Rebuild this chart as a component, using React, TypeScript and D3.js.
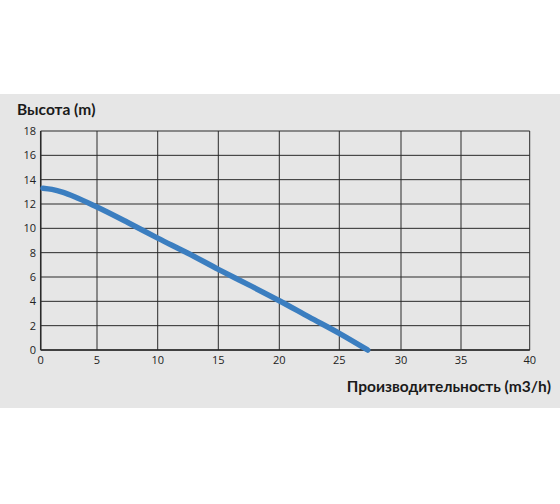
import React from "react";
import * as d3 from "d3";

const flowValues = [0.2, 1, 2, 3, 5, 7.5, 10, 12.5, 15, 17.5, 20, 22.5, 25, 27.3];
const headValues = [13.3, 13.2, 12.95, 12.6, 11.75, 10.5, 9.2, 7.95, 6.63, 5.35, 4.05, 2.7, 1.37, 0];
const xTicks = [0, 5, 10, 15, 20, 25, 30, 35, 40];
const yTicks = [0, 2, 4, 6, 8, 10, 12, 14, 16, 18];
const yTitle = "Высота (m)";
const xTitle = "Производительность (m3/h)";

export default function App() {
  const W = 560, H = 504;
  // the printed grid is slightly uneven: first and last cells differ in width
  const x = d3
    .scaleLinear()
    .domain(xTicks)
    .range([40.7, 97, 157.7, 218.3, 279.3, 339.3, 401, 461, 529.7]);
  const y = d3.scaleLinear().domain([0, 18]).range([350, 131]);
  const pts = flowValues.map((f, i) => [f, headValues[i]] as [number, number]);
  const line = d3
    .line<[number, number]>()
    .x((d) => x(d[0]))
    .y((d) => y(d[1]))
    .curve(d3.curveMonotoneX);
  const font = "'Open Sans', sans-serif";
  const titleFont = "Lato, 'Open Sans', sans-serif";
  const gridColor = "#2a2a2a";
  return (
    <svg
      width={W}
      height={H}
      style={{ position: "absolute", left: 0, top: 0, background: "#fff" }}
    >
      <rect x={0} y={94} width={W} height={314} fill="#e6e6e6" />
      {yTicks.map((t) => (
        <line key={"gy" + t} x1={x(0)} x2={x(40)} y1={y(t)} y2={y(t)} stroke={gridColor} strokeWidth={1} />
      ))}
      {xTicks.map((t) => (
        <line key={"gx" + t} x1={x(t)} x2={x(t)} y1={y(0)} y2={y(18)} stroke={gridColor} strokeWidth={1} />
      ))}
      <line x1={x(0)} x2={x(40)} y1={y(0)} y2={y(0)} stroke={gridColor} strokeWidth={1.5} />
      <line x1={x(0)} x2={x(0)} y1={y(0)} y2={y(18)} stroke={gridColor} strokeWidth={1.5} />
      {yTicks.map((t) => (
        <text key={"ly" + t} x={36} y={y(t) + 4} textAnchor="end" fontSize={11} fontFamily={font} fill="#222">
          {t}
        </text>
      ))}
      {xTicks.map((t) => (
        <text key={"lx" + t} x={x(t)} y={364} textAnchor="middle" fontSize={11} fontFamily={font} fill="#222">
          {t}
        </text>
      ))}
      <path d={line(pts) || ""} fill="none" stroke="#3b7ec0" strokeWidth={5.5} strokeLinecap="round" />
      <text x={17} y={115} fontSize={15.5} fontWeight={700} fontFamily={titleFont} fill="#1a1a1a">
        {yTitle}
      </text>
      <text x={551} y={392} textAnchor="end" fontSize={15.5} fontWeight={700} fontFamily={titleFont} fill="#1a1a1a">
        {xTitle}
      </text>
    </svg>
  );
}
